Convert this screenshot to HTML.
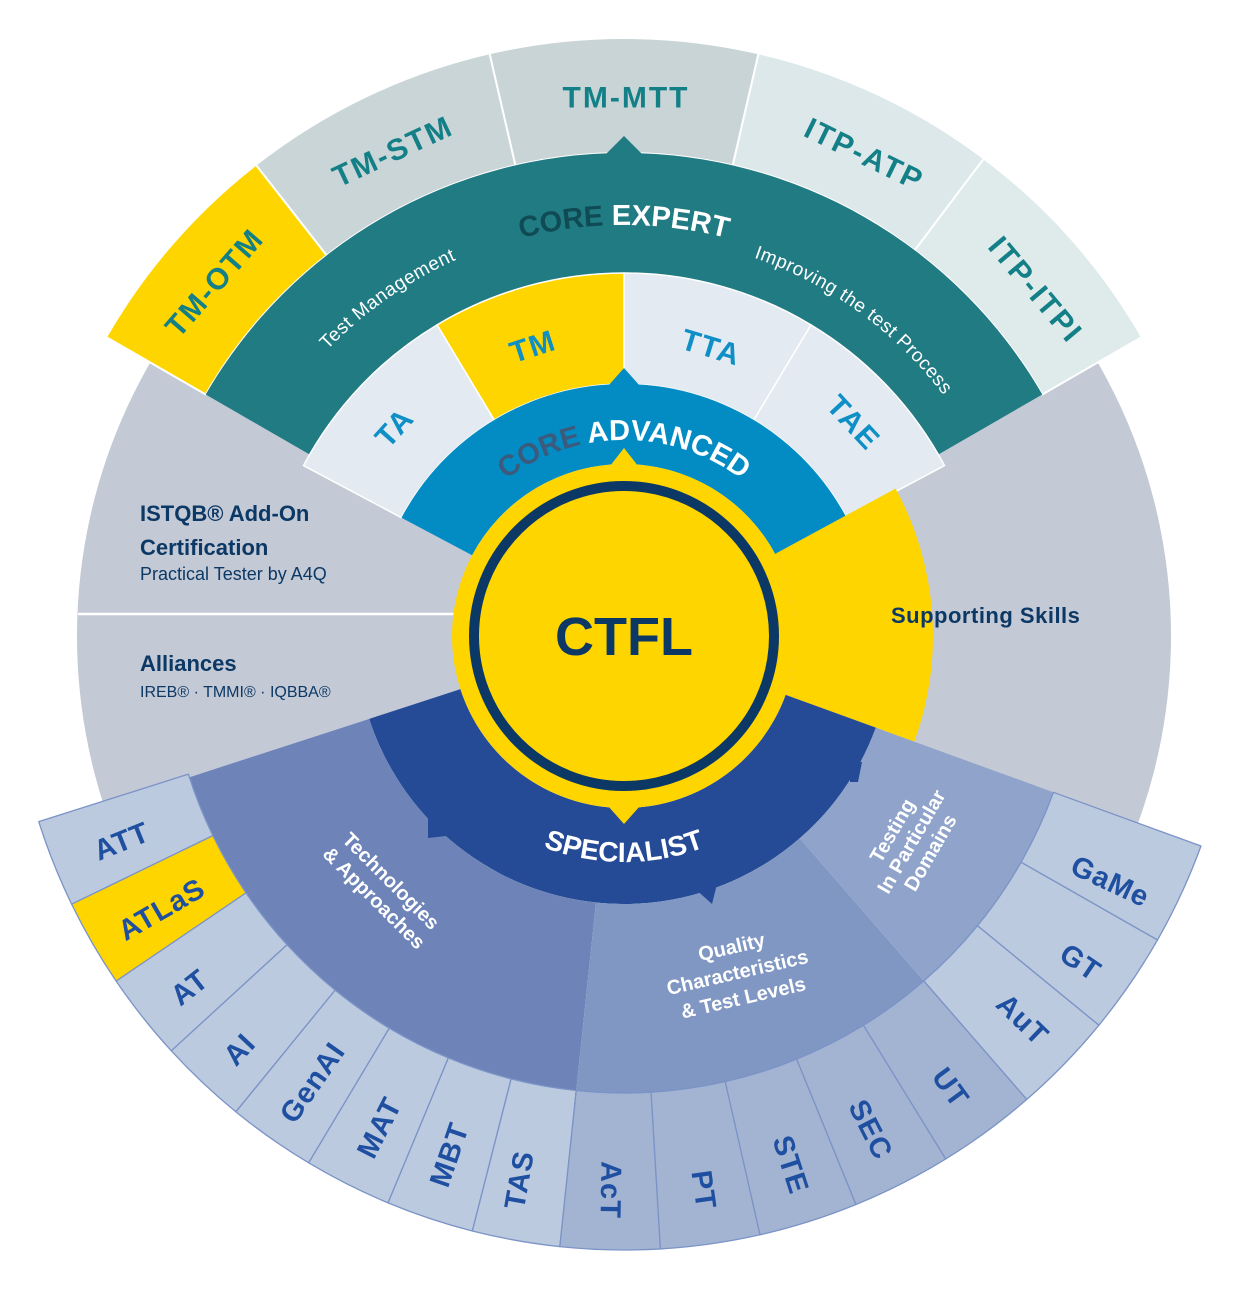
<!DOCTYPE html>
<html><head><meta charset="utf-8"><style>
html,body{margin:0;padding:0;background:#fff;}
svg{display:block;font-family:"Liberation Sans",sans-serif;}
.b{font-weight:bold;}
</style></head><body>
<svg id="s" width="1238" height="1315" viewBox="0 0 1238 1315" xmlns="http://www.w3.org/2000/svg">
<g id="shapes"></g>
<defs>
<path id="pExpert"/><path id="pTM"/><path id="pITP"/><path id="pAdv"/><path id="pSpec"/>
</defs>
<!-- notches -->
<polygon points="606,154 624,136 642,154" fill="#217B82"/>
<polygon points="608,386 624,368 640,386" fill="#038CC4"/>
<polygon points="610,466 624,448 638,466" fill="#FFD500"/>
<polygon points="608,806 624,824 640,806" fill="#FFD500"/>
<polygon points="428,818 446,818 446,836 428,838" fill="#254B96"/>
<polygon points="850,762 862,762 858,782 850,782" fill="#254B96"/>
<polygon points="692,886 718,880 712,904" fill="#254B96"/>
<circle cx="624" cy="636" r="172" fill="#FFD500"/>
<circle cx="624" cy="636" r="150" fill="none" stroke="#0C3865" stroke-width="10"/>
<text x="624" y="655" text-anchor="middle" class="b" font-size="54" fill="#0C3865">CTFL</text>

<g class="b" font-size="30" letter-spacing="2" fill="#137F86" text-anchor="middle" dominant-baseline="central">
<text transform="translate(215,283) rotate(-49)">TM-OTM</text>
<text transform="translate(393,152) rotate(-25)">TM-STM</text>
<text transform="translate(626,98)">TM-MTT</text>
<text transform="translate(864,155) rotate(26)">ITP-ATP</text>
<text transform="translate(1035,290) rotate(50)">ITP-ITPI</text>
</g>
<g class="b" font-size="30" letter-spacing="1.5" fill="#0E8FC6" text-anchor="middle" dominant-baseline="central">
<text transform="translate(395,428) rotate(-48)">TA</text>
<text transform="translate(533,347) rotate(-18)">TM</text>
<text transform="translate(711,348) rotate(17)">TTA</text>
<text transform="translate(853,423) rotate(47)">TAE</text>
</g>
<text class="b" font-size="29"><textPath href="#pExpert" startOffset="50%" text-anchor="middle"><tspan fill="#0F4A55">CORE </tspan><tspan fill="#fff">EXPERT</tspan></textPath></text>
<text font-size="19" fill="#fff" letter-spacing="0.5"><textPath href="#pTM" startOffset="50%" text-anchor="middle">Test Management</textPath></text>
<text font-size="19" fill="#fff" letter-spacing="0.5"><textPath href="#pITP" startOffset="50%" text-anchor="middle">Improving the test Process</textPath></text>
<text class="b" font-size="29"><textPath href="#pAdv" startOffset="50%" text-anchor="middle"><tspan fill="#3B5A7C">CORE </tspan><tspan fill="#fff">ADVANCED</tspan></textPath></text>
<text class="b" font-size="28" fill="#fff"><textPath href="#pSpec" startOffset="50%" text-anchor="middle">SPECIALIST</textPath></text>

<g fill="#0C3865">
<text x="140" y="521" class="b" font-size="22">ISTQB® Add-On</text>
<text x="140" y="555" class="b" font-size="22">Certification</text>
<text x="140" y="580" font-size="18">Practical Tester by A4Q</text>
<text x="140" y="671" class="b" font-size="22">Alliances</text>
<text x="140" y="697" font-size="16">IREB® · TMMI® · IQBBA®</text>
<text x="891" y="623" class="b" font-size="22" letter-spacing="0.5">Supporting Skills</text>
</g>

<g fill="#fff" font-size="20" text-anchor="middle" class="b">
<g transform="translate(382,890) rotate(45)"><text y="-6">Technologies</text><text y="18">&amp; Approaches</text></g>
<g transform="translate(738,975) rotate(-13)"><text y="-22">Quality</text><text y="4">Characteristics</text><text y="30">&amp; Test Levels</text></g>
<g transform="translate(912,842) rotate(-60)"><text y="-16">Testing</text><text y="6">In Particular</text><text y="28">Domains</text></g>
</g>

<g class="b" font-size="29" letter-spacing="1" fill="#1F4FA0" text-anchor="middle" dominant-baseline="central">
<text transform="translate(122,842) rotate(-22)">ATT</text>
<text transform="translate(162,910) rotate(-30)">ATLaS</text>
<text transform="translate(190,988) rotate(-38)">AT</text>
<text transform="translate(240,1050) rotate(-47)">AI</text>
<text transform="translate(313,1083) rotate(-55)">GenAI</text>
<text transform="translate(380,1128) rotate(-63)">MAT</text>
<text transform="translate(450,1155) rotate(-71)">MBT</text>
<text transform="translate(520,1180) rotate(-80)">TAS</text>
<text transform="translate(610,1190) rotate(91)">AcT</text>
<text transform="translate(703,1190) rotate(82)">PT</text>
<text transform="translate(790,1165) rotate(72)">STE</text>
<text transform="translate(870,1130) rotate(63)">SEC</text>
<text transform="translate(950,1088) rotate(54)">UT</text>
<text transform="translate(1022,1020) rotate(44)">AuT</text>
<text transform="translate(1080,963) rotate(34)">GT</text>
<text transform="translate(1110,882) rotate(25)">GaMe</text>
</g>
<script>
var cx=624,cy=636;
function P(r,a){a=a*Math.PI/180;return [(cx+r*Math.cos(a)).toFixed(2),(cy-r*Math.sin(a)).toFixed(2)];}
function seg(r1,r2,a1,a2){var L=(a2-a1)>180?1:0;var p1=P(r2,a1),p2=P(r2,a2),p3=P(r1,a2),p4=P(r1,a1);
 if(r1<=0)return "M"+cx+","+cy+" L"+p1+" A"+r2+","+r2+" 0 "+L+" 0 "+p2+" Z";
 return "M"+p1+" A"+r2+","+r2+" 0 "+L+" 0 "+p2+" L"+p3+" A"+r1+","+r1+" 0 "+L+" 1 "+p4+" Z";}
var g=document.getElementById("shapes");
function add(d,fill,stroke,sw){var e=document.createElementNS("http://www.w3.org/2000/svg","path");e.setAttribute("d",d);e.setAttribute("fill",fill);if(stroke){e.setAttribute("stroke",stroke);e.setAttribute("stroke-width",sw||1.5);e.setAttribute("stroke-linejoin","round");}g.appendChild(e);}
add(seg(0,547,149,198),"#C3C9D5");
add(seg(0,547,-21,31),"#C3C9D5");
var tc=["#DFEAEB","#DDE8EA","#C8D4D6","#C9D5D7","#FFD500"];var tb=[30,53,77,103,128,150];
for(var i=0;i<5;i++)add(seg(483,598,tb[i],tb[i+1]),tc[i],"#fff",2);
add(seg(363,483,30,150),"#217B82");
var ac=["#E3EAF2","#E3EAF2","#FFD500","#E3EAF2"];var ab=[28,59,90,121,152];
for(i=0;i<4;i++)add(seg(252,363,ab[i],ab[i+1]),ac[i],"#fff",1.5);
add(seg(172,252,28,152),"#038CC4");
add(seg(172,309,-20,28.5),"#FFD500");
add(seg(172,268,198,340),"#254B96");
add(seg(268,457,198,264),"#6E84B9");
add(seg(268,457,264,311),"#8197C3");
add(seg(268,457,311,340),"#8FA3CB");
var lb=197.6,st=(264-197.6)/8;
for(i=0;i<8;i++)add(seg(457,614,lb+i*st,lb+(i+1)*st),i==1?"#FFD500":"#BBCADF","#7B93C6",1.3);
st=(311-264)/5;for(i=0;i<5;i++)add(seg(457,614,264+i*st,264+(i+1)*st),"#A3B4D3","#7B93C6",1.3);
st=(340-311)/3;for(i=0;i<3;i++)add(seg(457,614,311+i*st,311+(i+1)*st),"#BBCADF","#7B93C6",1.3);
var ln=document.createElementNS("http://www.w3.org/2000/svg","line");
ln.setAttribute("x1","78");ln.setAttribute("y1","614");ln.setAttribute("x2","455");ln.setAttribute("y2","614");ln.setAttribute("stroke","#fff");ln.setAttribute("stroke-width","2.5");g.appendChild(ln);
function arcP(id,r,a1,a2,sweep){var p1=P(r,a1),p2=P(r,a2);document.getElementById(id).setAttribute("d","M"+p1+" A"+r+","+r+" 0 0 "+sweep+" "+p2);}
arcP("pExpert",411,130,50,1);
arcP("pTM",412,150,100,1);
arcP("pITP",400,82,26,1);
arcP("pAdv",196,140,40,1);
arcP("pSpec",226,215,325,0);
</script>
</svg>
</body></html>
